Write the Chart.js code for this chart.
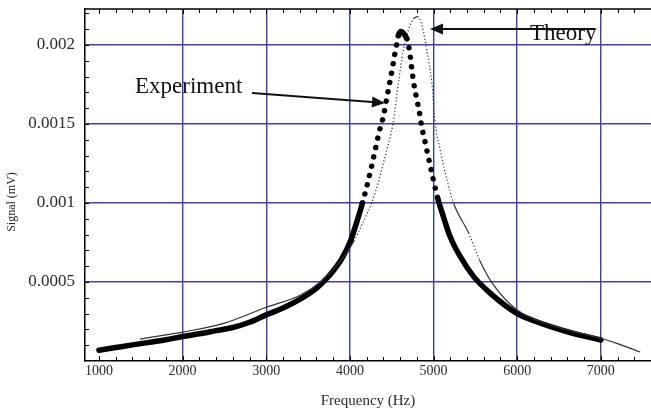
<!DOCTYPE html>
<html><head><meta charset="utf-8">
<script src="https://cdn.jsdelivr.net/npm/chart.js@4.4.0/dist/chart.umd.min.js"></script>
<style>html,body{margin:0;padding:0;background:#fff}#wrap{width:651px;height:410px;position:relative}</style>
</head><body><div id="wrap"><canvas id="c" width="651" height="410"></canvas></div>
<script>
// ---- data ----
const xTickValues = [1000, 2000, 3000, 4000, 5000, 6000, 7000];
const xTickLabels = ['1000', '2000', '3000', '4000', '5000', '6000', '7000'];
const yTickValues = [0.0005, 0.001, 0.0015, 0.002];
const yTickLabels = ['0.0005', '0.001', '0.0015', '0.002'];

const expFreq = [1000, 1200, 1400, 1600, 1800, 2000, 2200, 2400, 2600, 2800, 3000, 3200, 3400, 3600, 3700, 3800, 3900, 4000, 4100, 4150, 4200, 4250, 4300, 4350, 4400, 4450, 4500, 4540, 4560, 4580, 4610, 4640, 4660, 4680, 4700, 4720, 4740, 4760, 4780, 4800, 4830, 4850, 4920, 4980, 5050, 5120, 5200, 5320, 5480, 5680, 6000, 6200, 6400, 6600, 6800, 7000];
const expSignal = [0.000068, 0.000085, 0.000102, 0.000118, 0.000135, 0.000155, 0.000172, 0.000192, 0.000212, 0.000245, 0.000292, 0.000335, 0.000390, 0.000460, 0.000510, 0.000570, 0.000645, 0.000750, 0.000910, 0.001000, 0.001100, 0.001210, 0.001330, 0.001450, 0.001548, 0.001690, 0.001830, 0.001950, 0.002005, 0.002060, 0.002085, 0.002075, 0.002060, 0.002040, 0.002000, 0.001935, 0.001850, 0.001770, 0.001710, 0.001655, 0.001578, 0.001510, 0.001335, 0.001190, 0.001030, 0.000910, 0.000785, 0.000660, 0.000534, 0.000428, 0.000300, 0.000255, 0.000217, 0.000185, 0.000158, 0.000133];

const theoryFreq = [1490, 1800, 2000, 2500, 3000, 3400, 3650, 3900, 4050, 4150, 4260, 4350, 4440, 4515, 4580, 4640, 4700, 4760, 4810, 4860, 4920, 4980, 5020, 5080, 5150, 5240, 5420, 5550, 5700, 6000, 6400, 7000, 7200, 7470];
const theorySignal = [0.000139, 0.000165, 0.000183, 0.000240, 0.000340, 0.000415, 0.000502, 0.000640, 0.000760, 0.000870, 0.001000, 0.001150, 0.001335, 0.001500, 0.001760, 0.001968, 0.002095, 0.002165, 0.002180, 0.002127, 0.001968, 0.001758, 0.001504, 0.001335, 0.001170, 0.000998, 0.000810, 0.000640, 0.000495, 0.000323, 0.000228, 0.000144, 0.000110, 0.000057];

// ---- annotation anchors (data coordinates) ----
const notes = {
  theoryText: { x: 6153, y: 0.002032, text: 'Theory' },
  theoryArrow: { from: [6938, 0.002101], to: [4958, 0.002101] },
  expText: { x: 1431, y: 0.001696, text: 'Experiment' },
  expArrow: { from: [2830, 0.001696], to: [4420, 0.001633] }
};
const yTitle = 'Signal (mV)';

const SERIF = "'Liberation Serif', 'Times New Roman', serif";
const gridBlue = 'rgb(62,62,172)';

function steep(ctx, k) {
  const dx = Math.abs(ctx.p1.x - ctx.p0.x), dy = Math.abs(ctx.p1.y - ctx.p0.y);
  return dy > k * dx;
}

const framePlugin = {
  id: 'frame',
  afterDatasetsDraw(chart) {
    const c = chart.ctx, a = chart.chartArea, xs = chart.scales.x, ys = chart.scales.y;
    c.save();
    c.strokeStyle = '#000';
    c.lineWidth = 1.5;
    c.beginPath(); c.moveTo(a.left, a.top); c.lineTo(a.right, a.top); c.stroke();
    // inward tick marks
    c.lineWidth = 1;
    c.beginPath();
    for (let v = 1000; v <= 7600; v += 200) {
      const px = Math.round(xs.getPixelForValue(v)) + 0.5;
      if (px > a.right) continue;
      const len = (v % 1000 === 0) ? 5 : 4;
      c.moveTo(px, a.bottom); c.lineTo(px, a.bottom - len);
      c.moveTo(px, a.top); c.lineTo(px, a.top + len);
    }
    for (let i = 1; i <= 22; i++) {
      const py = Math.round(ys.getPixelForValue(i * 0.0001)) + 0.5;
      if (py < a.top) continue;
      c.moveTo(a.left, py); c.lineTo(a.left + 4, py);
    }
    c.stroke();
    // y axis title
    c.save();
    c.fillStyle = '#2a2a2a';
    c.font = '12px ' + SERIF;
    c.textAlign = 'center';
    c.textBaseline = 'middle';
    c.translate(12, (a.top + a.bottom) / 2 + 17);
    c.rotate(-Math.PI / 2);
    c.fillText(yTitle, 0, 0);
    c.restore();
    // annotations
    c.fillStyle = '#111';
    c.font = '23px ' + SERIF;
    c.textBaseline = 'alphabetic';
    c.textAlign = 'left';
    c.fillText(notes.theoryText.text, xs.getPixelForValue(notes.theoryText.x), ys.getPixelForValue(notes.theoryText.y));
    c.fillText(notes.expText.text, xs.getPixelForValue(notes.expText.x), ys.getPixelForValue(notes.expText.y));
    function arrow(ar) {
      const x0 = xs.getPixelForValue(ar.from[0]), y0 = ys.getPixelForValue(ar.from[1]);
      const x1 = xs.getPixelForValue(ar.to[0]), y1 = ys.getPixelForValue(ar.to[1]);
      const ang = Math.atan2(y1 - y0, x1 - x0);
      const L = 13, W = 5.5;
      const bx = x1 - L * Math.cos(ang), by = y1 - L * Math.sin(ang);
      c.strokeStyle = '#111'; c.lineWidth = 2;
      c.beginPath(); c.moveTo(x0, y0); c.lineTo(bx, by); c.stroke();
      c.beginPath();
      c.moveTo(x1, y1);
      c.lineTo(bx + W * Math.sin(ang), by - W * Math.cos(ang));
      c.lineTo(bx - W * Math.sin(ang), by + W * Math.cos(ang));
      c.closePath(); c.fill();
    }
    arrow(notes.theoryArrow);
    arrow(notes.expArrow);
    c.restore();
  }
};

new Chart(document.getElementById('c'), {
  type: 'line',
  data: {
    datasets: [
      {
        label: 'Theory',
        data: theoryFreq.map((f, i) => ({ x: f, y: theorySignal[i] })),
        borderColor: '#333',
        borderWidth: 1.2,
        pointRadius: 0,
        fill: false,
        cubicInterpolationMode: 'monotone',
        segment: { borderDash: ctx => steep(ctx, 2) ? [1.2, 2.2] : undefined }
      },
      {
        label: 'Experiment',
        data: expFreq.map((f, i) => ({ x: f, y: expSignal[i] })),
        borderColor: '#000',
        borderWidth: 5.5,
        borderCapStyle: 'round',
        borderJoinStyle: 'round',
        pointRadius: 0,
        fill: false,
        cubicInterpolationMode: 'monotone',
        segment: { borderDash: ctx => steep(ctx, 3.5) ? [0.01, 9.5] : undefined }
      }
    ]
  },
  options: {
    responsive: false,
    animation: false,
    devicePixelRatio: 1,
    layout: { padding: { top: 9, left: 0, right: 0, bottom: 0 } },
    plugins: { legend: { display: false }, tooltip: { enabled: false } },
    scales: {
      x: {
        type: 'linear', min: 833, max: 7600,
        afterBuildTicks: s => { s.ticks = xTickValues.map(v => ({ value: v })); },
        afterFit: s => { s.height = 49; s.paddingLeft = 0; s.paddingRight = 0; },
        ticks: {
          callback: v => xTickLabels[xTickValues.indexOf(v)],
          font: { family: SERIF, size: 14 }, color: '#2a2a2a', padding: 2,
          maxRotation: 0, autoSkip: false
        },
        grid: {
          color: ctx => (ctx.tick && ctx.tick.value === 1000) ? 'rgba(0,0,0,0)' : gridBlue,
          lineWidth: 1.4, drawTicks: false
        },
        border: { color: '#000', width: 1.5 },
        title: { display: true, text: 'Frequency (Hz)', font: { family: SERIF, size: 15 }, color: '#2a2a2a', padding: { top: 0, bottom: 0 } }
      },
      y: {
        type: 'linear', min: 0, max: 0.002228,
        afterBuildTicks: s => { s.ticks = yTickValues.map(v => ({ value: v })); },
        afterFit: s => { s.width = 85; s.paddingTop = 0; s.paddingBottom = 0; },
        ticks: {
          callback: v => yTickLabels[yTickValues.indexOf(v)],
          font: { family: SERIF, size: 17 }, color: '#2a2a2a', padding: 10, autoSkip: false
        },
        grid: { color: gridBlue, lineWidth: 1.4, drawTicks: false },
        border: { color: '#000', width: 1.5 },
        title: { display: false }
      }
    }
  },
  plugins: [framePlugin]
});
</script>
</body></html>
